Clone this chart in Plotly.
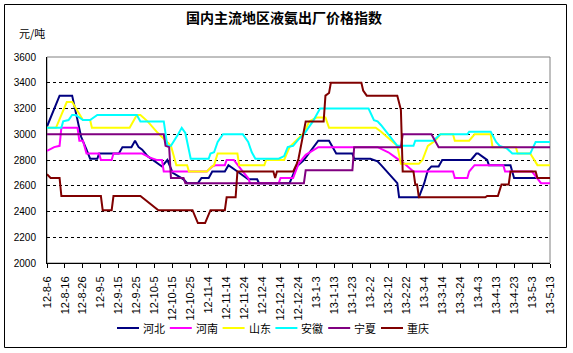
import plotly.graph_objects as go
import pandas as pd

START = pd.Timestamp("2012-08-06")

tick_labels = ["12-8-6", "12-8-16", "12-8-26", "12-9-5", "12-9-15", "12-9-25", "12-10-5",
               "12-10-15", "12-10-25", "12-11-4", "12-11-14", "12-11-24", "12-12-4",
               "12-12-14", "12-12-24", "13-1-3", "13-1-13", "13-1-23", "13-2-2", "13-2-12",
               "13-2-22", "13-3-4", "13-3-14", "13-3-24", "13-4-3", "13-4-13", "13-4-23",
               "13-5-3", "13-5-13"]
y_ticks = [2000, 2200, 2400, 2600, 2800, 3000, 3200, 3400, 3600]

names = ["河北", "河南", "山东", "安徽", "宁夏", "重庆"]
colors = ["#000080", "#FF00FF", "#FFFF00", "#00FFFF", "#800080", "#800000"]

# day offsets from 2012-08-06 and prices (元/吨)
hebei_days = [0, 7, 14, 17, 19, 22, 24, 28, 29, 40, 42, 47, 49, 51, 53, 56, 59, 62, 64, 67,
              70, 76, 78, 84, 86, 90, 92, 99, 101, 105, 112, 117, 118, 135, 136, 139, 143, 148,
              151, 157, 161, 170, 171, 180, 184, 186, 191, 195, 196, 207, 210, 212, 214, 218,
              220, 236, 239, 240, 243, 245, 246, 258, 260, 280]
hebei_vals = [3060, 3300, 3300, 3110, 2980, 2880, 2810, 2810, 2850, 2850, 2900, 2900, 2950, 2900,
              2880, 2830, 2800, 2770, 2750, 2800, 2700, 2650, 2620, 2620, 2660, 2660, 2710, 2710,
              2760, 2720, 2650, 2650, 2620, 2620, 2650, 2750, 2800, 2900, 2950, 2950, 2850, 2850,
              2810, 2810, 2790, 2760, 2680, 2620, 2510, 2510, 2620, 2720, 2750, 2750, 2800, 2800,
              2850, 2850, 2820, 2800, 2760, 2760, 2660, 2660]

henan_days = [0, 4, 7, 8, 17, 18, 20, 22, 29, 30, 36, 37, 53, 57, 61, 64, 65, 89, 92, 94,
              99, 100, 104, 106, 109, 112, 113, 129, 130, 137, 140, 144, 151, 184, 190, 193, 196,
              199, 204, 226, 227, 234, 235, 238, 254, 255, 270, 273, 275, 280]
henan_vals = [2870, 2900, 2910, 3050, 3050, 2950, 2950, 2850, 2850, 2800, 2800, 2850, 2850, 2820,
              2800, 2800, 2710, 2710, 2750, 2760, 2760, 2800, 2800, 2760, 2710, 2660, 2620, 2620,
              2660, 2660, 2770, 2840, 2900, 2900, 2860, 2830, 2800, 2770, 2710, 2710, 2660, 2660,
              2710, 2760, 2760, 2710, 2710, 2660, 2620, 2620]

shandong_days = [0, 5, 11, 14, 20, 24, 25, 46, 50, 52, 56, 61, 69, 72, 78, 79, 89, 91, 93, 95,
                 106, 107, 121, 122, 132, 135, 143, 146, 150, 155, 157, 183, 186, 195, 197, 207,
                 209, 212, 216, 219, 226, 227, 235, 238, 247, 248, 261, 262, 269, 273, 280]
shandong_vals = [3050, 3050, 3250, 3250, 3110, 3110, 3050, 3050, 3150, 3150, 3100, 3020, 2910,
                 2760, 2760, 2710, 2710, 2740, 2760, 2850, 2850, 2760, 2760, 2800, 2800, 2900,
                 3010, 3100, 3130, 3130, 3050, 3050, 3020, 2910, 2770, 2770, 2800, 2910, 2950,
                 3000, 3000, 2950, 2950, 3000, 3000, 2900, 2900, 2850, 2850, 2760, 2760]

anhui_days = [0, 8, 9, 12, 14, 16, 20, 24, 28, 50, 52, 65, 67, 69, 73, 75, 77, 80, 90, 91, 93,
              95, 98, 109, 112, 114, 116, 129, 132, 134, 137, 140, 143, 148, 152, 179, 182,
              184, 186, 190, 192, 195, 204, 205, 215, 219, 234, 235, 247, 250, 252, 256, 259,
              269, 272, 280]
anhui_vals = [3050, 3050, 3100, 3110, 3150, 3150, 3110, 3110, 3150, 3150, 3100, 3100, 2910, 2910,
              3000, 3050, 3010, 2810, 2810, 2850, 2860, 2940, 3000, 3000, 2940, 2860, 2810,
              2810, 2830, 2900, 2910, 2960, 3000, 3100, 3200, 3200, 3110, 3100, 3070, 3000, 2960,
              2910, 2910, 2950, 2950, 3000, 3000, 3020, 3020, 2940, 2910, 2890, 2850, 2850, 2940,
              2940]

ningxia_days = [0, 65, 66, 68, 69, 76, 77, 143, 144, 170, 171, 197, 198, 214, 218, 280]
ningxia_vals = [3000, 3000, 2910, 2900, 2660, 2660, 2620, 2620, 2720, 2720, 2900, 2900, 3000,
                3000, 2900, 2900]

chongqing_days = [0, 2, 7, 8, 30, 31, 36, 37, 52, 62, 81, 84, 88, 91, 99, 100, 105, 106, 126,
                  127, 128, 137, 139, 140, 144, 154, 155, 157, 158, 175, 176, 178, 195, 196, 197,
                  198, 204, 205, 206, 207, 244, 245, 251, 253, 257, 258, 272, 273, 280]
chongqing_vals = [2690, 2660, 2660, 2520, 2520, 2410, 2410, 2520, 2520, 2410, 2410, 2310, 2310,
                  2410, 2410, 2510, 2510, 2710, 2710, 2660, 2710, 2710, 2770, 2810, 3100, 3100,
                  3300, 3320, 3400, 3400, 3340, 3300, 3300, 3250, 3190, 2710, 2710, 2610, 2610,
                  2510, 2510, 2520, 2520, 2610, 2610, 2710, 2710, 2660, 2660]

series = [
    (hebei_days, hebei_vals),
    (henan_days, henan_vals),
    (shandong_days, shandong_vals),
    (anhui_days, anhui_vals),
    (ningxia_days, ningxia_vals),
    (chongqing_days, chongqing_vals),
]

tick_dates = [pd.Timestamp("20" + "-".join(f"{int(p):02d}" for p in lab.split("-"))) for lab in tick_labels]

fig = go.Figure()
for name, color, (days, vals) in zip(names, colors, series):
    xs = [START + pd.Timedelta(days=d) for d in days]
    fig.add_trace(go.Scatter(x=xs, y=vals, mode="lines", name=name,
                             line=dict(color=color, width=2), showlegend=False))

# pixel geometry helpers (plot area 47..550 x 57..263)
L, R, T, B = 47, 550, 57, 263
W, H = R - L, B - T
def px(x):
    return (x - L) / W
def py(y):
    return (B - y) / H

NUM_FONT = "Liberation Sans, Arial, sans-serif"
CJK_FONT = "Noto Sans CJK SC, sans-serif"

fig.update_layout(
    width=573, height=353,
    margin=dict(l=L, r=573 - R, t=T, b=353 - B, pad=0),
    paper_bgcolor="white", plot_bgcolor="white",
    title=dict(text="<b>国内主流地区液氨出厂价格指数</b>", x=284 / 573, xanchor="center",
               y=1 - 18 / 353, yanchor="middle", yref="container",
               font=dict(family=CJK_FONT, size=14, color="black")),
    xaxis=dict(type="date", range=[tick_dates[0], tick_dates[-1]],
               tickvals=tick_dates, ticktext=tick_labels, tickangle=-90,
               ticks="outside", ticklen=4, tickcolor="black", tickwidth=1,
               ticklabelstandoff=4,
               showline=True, linecolor="black", linewidth=1, showgrid=False,
               tickfont=dict(family=NUM_FONT, size=11, color="black")),
    yaxis=dict(range=[y_ticks[0], y_ticks[-1]], tickvals=y_ticks,
               showgrid=True, gridcolor="black", gridwidth=1, griddash="3px,3px",
               showline=True, linecolor="black", linewidth=1, ticks="", zeroline=False,
               ticklabelstandoff=8,
               tickfont=dict(family=NUM_FONT, size=10, color="black")),
    shapes=[
        dict(type="rect", xref="paper", yref="paper", x0=0, x1=1, y0=0, y1=1,
             line=dict(color="#808080", width=1), layer="between"),
        dict(type="rect", xref="paper", yref="paper", x0=px(4.5), x1=px(566.5),
             y0=py(347.5), y1=py(4.5), line=dict(color="black", width=1), layer="above"),
    ],
)

fig.add_annotation(text="元/吨", xref="paper", yref="paper", x=px(17), y=py(33),
                   xanchor="left", yanchor="middle", showarrow=False,
                   font=dict(family=CJK_FONT, size=11, color="black"))

# legend drawn as a row of samples below the plot
leg_x0, leg_step, leg_y = 117, 52.8, 328
for i, (name, color) in enumerate(zip(names, colors)):
    x0 = leg_x0 + i * leg_step
    fig.add_shape(type="line", xref="paper", yref="paper", x0=px(x0), x1=px(x0 + 22),
                  y0=py(leg_y), y1=py(leg_y), line=dict(color=color, width=2))
    fig.add_annotation(text=name, xref="paper", yref="paper", x=px(x0 + 24), y=py(leg_y),
                       xanchor="left", yanchor="middle", showarrow=False,
                       font=dict(family=CJK_FONT, size=11, color="black"))

fig.write_html("out.html")
